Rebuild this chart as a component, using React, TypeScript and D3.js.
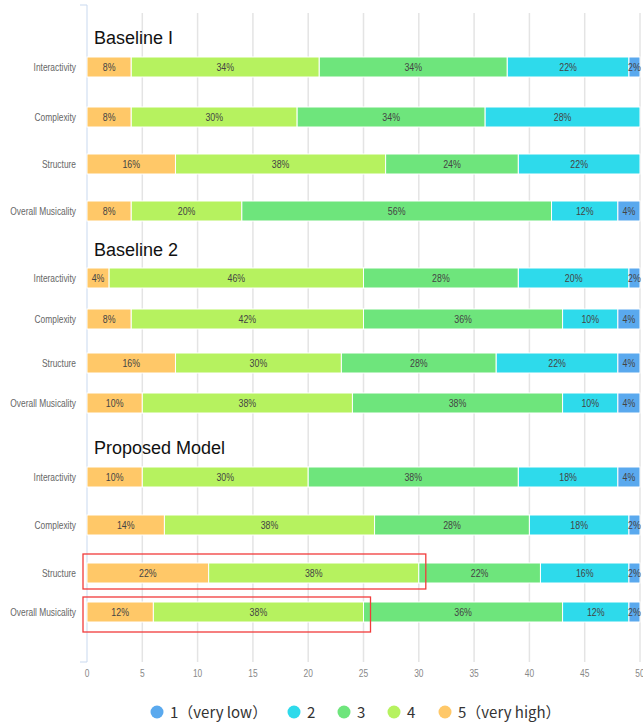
import { useEffect, useRef } from 'react';
import * as d3 from 'd3';

// --- Data (percent of respondents, ordered 5 -> 1) ---
const groupNames = ['Baseline I', 'Baseline 2', 'Proposed Model'];
const criteria = ['Interactivity', 'Complexity', 'Structure', 'Overall Musicality'];
const levels = ['5', '4', '3', '2', '1'];
const legendLabels = ['1（very low）', '2', '3', '4', '5（very high）'];
const xTicks = [0, 5, 10, 15, 20, 25, 30, 35, 40, 45, 50];

const baseline1 = [
    [8, 34, 34, 22, 2],
    [8, 30, 34, 28, 0],
    [16, 38, 24, 22, 0],
    [8, 20, 56, 12, 4],
];
const baseline2 = [
    [4, 46, 28, 20, 2],
    [8, 42, 36, 10, 4],
    [16, 30, 28, 22, 4],
    [10, 38, 38, 10, 4],
];
const proposed = [
    [10, 30, 38, 18, 4],
    [14, 38, 28, 18, 2],
    [22, 38, 22, 16, 2],
    [12, 38, 36, 12, 2],
];
const groupValues = [baseline1, baseline2, proposed];
// rows of the proposed model that are boxed in red, and how many segments the box spans
const highlights = [
    { group: 2, row: 2, segments: 2 },
    { group: 2, row: 3, segments: 2 },
];

// --- Layout ---
const W = 643;
const H = 723;
const plotLeft = 87;
const plotRight = 640;
const plotTop = 5;
const plotBottom = 662;
const barH = 20;
// title baseline and row centres of each panel (layout only)
const titleY = [44, 256, 454];
const rowY = [
    [67, 117, 164, 211],
    [278, 319, 363, 403],
    [477, 525, 573, 612],
];
const colors: Record<string, string> = {
    '1': '#5aa9ee',
    '2': '#2edaeb',
    '3': '#6ee57c',
    '4': '#b6f25f',
    '5': '#ffc868',
};
const smallFont = '"Liberation Sans", Arial, sans-serif';
const squeeze = 0.84;

// narrow text: the reference uses a condensed face, so squeeze horizontally
function narrowText(
    parent: d3.Selection<any, any, any, any>,
    x: number,
    y: number,
    txt: string,
    anchor: string,
    size: number,
    fill: string
) {
    return parent.append('text')
        .attr('transform', `translate(${x},${y}) scale(${squeeze},1)`)
        .attr('text-anchor', anchor)
        .attr('font-family', smallFont)
        .attr('font-size', size)
        .attr('fill', fill)
        .text(txt);
}

export default function App() {
    const svgRef = useRef<SVGSVGElement>(null);

    useEffect(() => {
        if (!svgRef.current) return;
        const svg = d3.select(svgRef.current);
        svg.selectAll('*').remove();

        const x = d3.scaleLinear().domain([0, 50]).range([plotLeft, plotRight]);

        // gridlines
        svg.append('g')
            .selectAll('line')
            .data(xTicks.slice(1))
            .join('line')
            .attr('x1', d => x(d)).attr('x2', d => x(d))
            .attr('y1', plotTop + 8).attr('y2', plotBottom)
            .attr('stroke', '#e4e4e4')
            .attr('stroke-width', 1.5);

        // left axis
        const ax = svg.append('g').attr('stroke', '#c9d9ef').attr('fill', 'none');
        ax.append('line').attr('x1', x(0)).attr('x2', x(0)).attr('y1', plotTop).attr('y2', plotBottom);
        ax.append('line').attr('x1', x(0) - 7).attr('x2', x(0)).attr('y1', plotTop).attr('y2', plotTop);
        ax.append('line').attr('x1', x(0) - 7).attr('x2', x(0)).attr('y1', plotBottom).attr('y2', plotBottom);

        // x tick labels
        const tg = svg.append('g');
        xTicks.forEach(t => narrowText(tg, x(t), 677, String(t), 'middle', 10, '#888'));

        groupValues.forEach((rows, gi) => {
            const g = svg.append('g');
            g.append('text')
                .attr('x', 94)
                .attr('y', titleY[gi])
                .attr('font-family', '"Liberation Sans", Arial, sans-serif')
                .attr('font-size', 18)
                .attr('fill', '#111')
                .text(groupNames[gi]);

            rows.forEach((vals, ri) => {
                const cy = rowY[gi][ri];
                narrowText(g, 76, cy + 3.5, criteria[ri], 'end', 10, '#666');

                const stack = d3.stack<number[]>()
                    .keys(levels.map((_, i) => String(i)))
                    .value((d, k) => d[+k] / 2)([vals]);

                stack.forEach((s, li) => {
                    const [x0, x1] = s[0];
                    if (x1 - x0 <= 0) return;
                    g.append('rect')
                        .attr('x', x(x0))
                        .attr('y', cy - barH / 2)
                        .attr('width', x(x1) - x(x0))
                        .attr('height', barH)
                        .attr('fill', colors[levels[li]])
                        .attr('stroke', '#fff')
                        .attr('stroke-width', 1);
                    narrowText(g, (x(x0) + x(x1)) / 2, cy + 3.5, vals[li] + '%', 'middle', 10.5, '#444');
                });
            });
        });

        // red highlight boxes
        highlights.forEach((h, i) => {
            const vals = groupValues[h.group][h.row];
            const end = d3.sum(vals.slice(0, h.segments)) / 2;
            const cy = rowY[h.group][h.row];
            const top = i === 0 ? cy - 19 : cy - 15;
            svg.append('rect')
                .attr('x', x(0) - 4)
                .attr('y', top)
                .attr('width', x(end) + 7 - (x(0) - 4))
                .attr('height', 35)
                .attr('fill', 'none')
                .attr('stroke', '#f23b3b')
                .attr('stroke-width', 1.3);
        });

        // legend
        const legendX = [157, 294, 344, 394, 445];
        const lg = svg.append('g');
        legendLabels.forEach((lab, i) => {
            const key = String(i + 1);
            lg.append('circle')
                .attr('cx', legendX[i])
                .attr('cy', 712)
                .attr('r', 6.5)
                .attr('fill', colors[key]);
            lg.append('text')
                .attr('x', legendX[i] + 13)
                .attr('y', 717.5)
                .attr('font-family', '"Noto Sans CJK SC", "Noto Sans", sans-serif')
                .attr('font-size', 15)
                .attr('fill', '#333')
                .text(lab);
        });
    }, []);

    return (
        <svg
            ref={svgRef}
            width={W}
            height={H}
            style={{ position: 'absolute', left: 0, top: 0, background: '#fff' }}
        />
    );
}
